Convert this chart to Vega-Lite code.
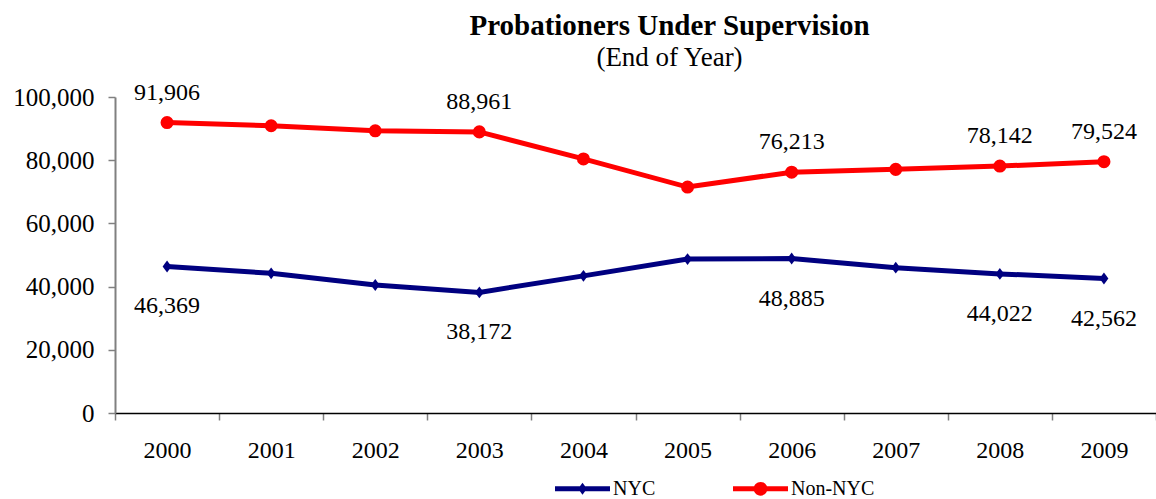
{
  "$schema": "https://vega.github.io/schema/vega-lite/v6.json",
  "width": 1041,
  "height": 316,
  "autosize": {"type": "none"},
  "padding": {"left": 115, "top": 97, "right": 0, "bottom": 86},
  "background": "white",
  "title": {
    "text": "Probationers Under Supervision",
    "subtitle": "(End of Year)",
    "anchor": "middle",
    "dx": 34,
    "offset": 10,
    "font": "Liberation Serif",
    "fontSize": 29,
    "fontWeight": "bold",
    "color": "black",
    "subtitleFont": "Liberation Serif",
    "subtitleFontSize": 27,
    "subtitleColor": "black",
    "subtitlePadding": 4
  },
  "config": {
    "view": {"stroke": null},
    "font": "Liberation Serif",
    "text": {"font": "Liberation Serif"},
    "axis": {"labelFont": "Liberation Serif"},
    "legend": {"labelFont": "Liberation Serif"}
  },
  "data": {
    "values": [
      {"year": "2000", "series": "NYC", "value": 46369, "label": true},
      {"year": "2001", "series": "NYC", "value": 44200, "label": false},
      {"year": "2002", "series": "NYC", "value": 40500, "label": false},
      {"year": "2003", "series": "NYC", "value": 38172, "label": true},
      {"year": "2004", "series": "NYC", "value": 43400, "label": false},
      {"year": "2005", "series": "NYC", "value": 48700, "label": false},
      {"year": "2006", "series": "NYC", "value": 48885, "label": true},
      {"year": "2007", "series": "NYC", "value": 46000, "label": false},
      {"year": "2008", "series": "NYC", "value": 44022, "label": true},
      {"year": "2009", "series": "NYC", "value": 42562, "label": true},
      {"year": "2000", "series": "Non-NYC", "value": 91906, "label": true},
      {"year": "2001", "series": "Non-NYC", "value": 90900, "label": false},
      {"year": "2002", "series": "Non-NYC", "value": 89300, "label": false},
      {"year": "2003", "series": "Non-NYC", "value": 88961, "label": true},
      {"year": "2004", "series": "Non-NYC", "value": 80400, "label": false},
      {"year": "2005", "series": "Non-NYC", "value": 71500, "label": false},
      {"year": "2006", "series": "Non-NYC", "value": 76213, "label": true},
      {"year": "2007", "series": "Non-NYC", "value": 77100, "label": false},
      {"year": "2008", "series": "Non-NYC", "value": 78142, "label": true},
      {"year": "2009", "series": "Non-NYC", "value": 79524, "label": true}
    ]
  },
  "encoding": {
    "x": {
      "field": "year",
      "type": "ordinal",
      "bandPosition": 0.5,
      "scale": {"type": "band", "paddingInner": 0, "paddingOuter": 0},
      "axis": {
        "title": null,
        "labelAngle": 0,
        "labelFont": "Liberation Serif",
        "labelFontSize": 24,
        "labelColor": "black",
        "labelPadding": 18,
        "domainColor": "black",
        "domainWidth": 1.5,
        "tickColor": "#808080",
        "tickWidth": 1.5,
        "tickSize": 7,
        "tickBand": "extent",
        "grid": false
      }
    },
    "y": {
      "field": "value",
      "type": "quantitative",
      "scale": {"domain": [0, 100000], "nice": false},
      "axis": {
        "title": null,
        "values": [0, 20000, 40000, 60000, 80000, 100000],
        "format": ",d",
        "labelFont": "Liberation Serif",
        "labelFontSize": 25,
        "labelColor": "black",
        "labelPadding": 14,
        "domainColor": "#808080",
        "domainWidth": 2,
        "tickColor": "#808080",
        "tickWidth": 1.5,
        "tickSize": 7,
        "grid": false
      }
    },
    "color": {
      "field": "series",
      "type": "nominal",
      "scale": {"domain": ["NYC", "Non-NYC"], "range": ["#000080", "#FF0000"]},
      "legend": {
        "orient": "none",
        "legendX": 440,
        "legendY": 364,
        "direction": "horizontal",
        "title": null,
        "labelFont": "Liberation Serif",
        "labelFontSize": 20,
        "labelColor": "black",
        "labelOffset": 3,
        "columnPadding": 77,
        "symbolType": "M-1,-0.09L1,-0.09L1,0.09L-1,0.09Z M-0.16,0L0,-0.22L0.16,0L0,0.22Z",
        "symbolSize": 3025,
        "symbolStrokeWidth": 0,
        "symbolOpacity": 1,
        "encode": {
          "symbols": {
            "update": {
              "shape": {"signal": "datum.value === 'NYC' ? 'M-1,-0.09L1,-0.09L1,0.09L-1,0.09Z M-0.16,0L0,-0.22L0.16,0L0,0.22Z' : 'M-1,-0.09L1,-0.09L1,0.09L-1,0.09Z M-0.25,0A0.25,0.25 0 1,1 0.25,0A0.25,0.25 0 1,1 -0.25,0Z'"},
              "fill": {"signal": "datum.value === 'NYC' ? '#000080' : '#FF0000'"},
              "strokeWidth": {"value": 0},
              "opacity": {"value": 1}
            }
          }
        }
      }
    }
  },
  "layer": [
    {
      "mark": {"type": "line", "strokeWidth": 5}
    },
    {
      "transform": [{"filter": "datum.series === 'NYC'"}],
      "mark": {"type": "point", "filled": true, "opacity": 1, "size": 140, "shape": "M-0.75,0L0,-1L0.75,0L0,1Z"}
    },
    {
      "transform": [{"filter": "datum.series === 'Non-NYC'"}],
      "mark": {"type": "point", "filled": true, "opacity": 1, "size": 170, "shape": "circle"}
    },
    {
      "transform": [{"filter": "datum.label && datum.series === 'Non-NYC'"}],
      "mark": {"type": "text", "font": "Liberation Serif", "fontSize": 24, "dy": -30, "baseline": "middle"},
      "encoding": {
        "text": {"field": "value", "type": "quantitative", "format": ",d"},
        "color": {"value": "black"}
      }
    },
    {
      "transform": [{"filter": "datum.label && datum.series === 'NYC'"}],
      "mark": {"type": "text", "font": "Liberation Serif", "fontSize": 24, "dy": 40, "baseline": "middle"},
      "encoding": {
        "text": {"field": "value", "type": "quantitative", "format": ",d"},
        "color": {"value": "black"}
      }
    }
  ]
}
